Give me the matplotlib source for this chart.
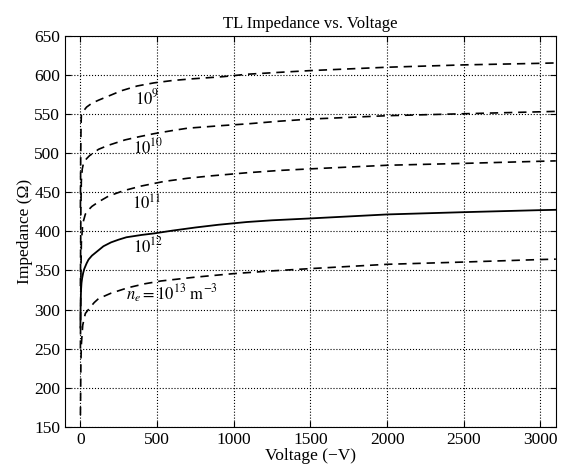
import matplotlib
matplotlib.use("Agg")
import matplotlib.pyplot as plt

plt.rcParams['font.family'] = ['Liberation Serif', 'DejaVu Serif']
plt.rcParams['mathtext.fontset'] = 'stix'

# impedance curves, one per electron density
v_9 = [0, 2, 4, 6, 12, 20, 40, 75, 120, 182, 268, 370, 480, 600, 718, 934, 1085, 1300, 1500,
       2000, 2500, 3000, 3100]
z_9 = [430, 500, 535, 549, 552, 554, 559, 564, 568, 573, 580, 586, 590, 593, 595, 598, 601,
       603.5, 605.7, 610, 613, 615, 615.5]

v_10 = [0, 3, 6, 12, 21, 40, 60, 90, 118, 180, 290, 380, 480, 600, 698, 934, 1085, 1300, 1500,
        2000, 2500, 3000, 3100]
z_10 = [330, 430, 465, 480, 488, 493, 497, 501, 505, 510, 517, 521, 525, 529, 532, 535.5, 537.5,
        541, 543.7, 548, 550.5, 553, 553.5]

v_11 = [0, 3, 6, 15, 32, 50, 75, 120, 182, 280, 396, 548, 700, 850, 1085, 1300, 1500, 2000,
        2500, 3000, 3100]
z_11 = [250, 340, 385, 410, 422, 427, 432, 438, 445, 452, 458, 464, 468, 471, 475, 478, 480,
        484.6, 487, 489.7, 490.2]

v_12 = [0, 1, 2, 4, 7, 11, 18, 25, 40, 53, 75, 100, 150, 200, 250, 300, 400, 483, 600, 750, 900,
        1085, 1250, 1500, 2000, 2500, 3000, 3100]
z_12 = [277, 300, 312, 325, 334, 340, 347, 352, 359, 364, 369, 373, 381, 386, 389.5, 392.5, 395.5,
        397.5, 401, 405, 408.5, 412, 414.2, 416.6, 421.7, 424.6, 427.2, 427.6]

v_13 = [0, 3, 6, 15, 32, 60, 90, 118, 200, 311, 420, 526, 750, 1000, 1250, 1500, 2000, 2500,
        3000, 3100]
z_13 = [165, 230, 255, 280, 295, 302, 309, 314, 321, 328, 333, 336.6, 341.5, 346, 349.5, 352.4,
        357.9, 360.8, 364, 364.5]

fig = plt.figure(figsize=(5.66, 4.67), dpi=100)
ax = fig.add_axes([0.115, 0.086, 0.867, 0.837])

dash = (5, 3.5)
ax.plot(v_9, z_9, color='black', lw=1.2, dashes=dash)
ax.plot(v_10, z_10, color='black', lw=1.2, dashes=dash)
ax.plot(v_11, z_11, color='black', lw=1.2, dashes=dash)
ax.plot(v_12, z_12, color='black', lw=1.3)
ax.plot(v_13, z_13, color='black', lw=1.2, dashes=dash)

# curve labels
ax.text(434, 570, r'$10^{9}$', ha='center', va='center', fontsize=12)
ax.text(440, 508, r'$10^{10}$', ha='center', va='center', fontsize=12)
ax.text(430, 435, r'$10^{11}$', ha='center', va='center', fontsize=12)
ax.text(440, 381, r'$10^{12}$', ha='center', va='center', fontsize=12)
ax.text(600, 320, r'$n_e = 10^{13}\ \mathrm{m}^{-3}$', ha='center', va='center', fontsize=12)

ax.set_xlim(-100, 3100)
ax.set_ylim(150, 650)
ax.set_xticks(range(0, 3001, 500))
ax.set_yticks(range(150, 651, 50))
ax.grid(True, linestyle=':', color='black', lw=0.8)
ax.tick_params(direction='in', top=True, right=True, labelsize=12.5, length=4)

ax.set_title('TL Impedance vs. Voltage', fontsize=12)
ax.set_xlabel('Voltage (\u2212V)', fontsize=12.5, labelpad=0)
ax.set_ylabel('Impedance (\u03a9)', fontsize=12.5, labelpad=1)

fig.savefig('out.png', dpi=100)
